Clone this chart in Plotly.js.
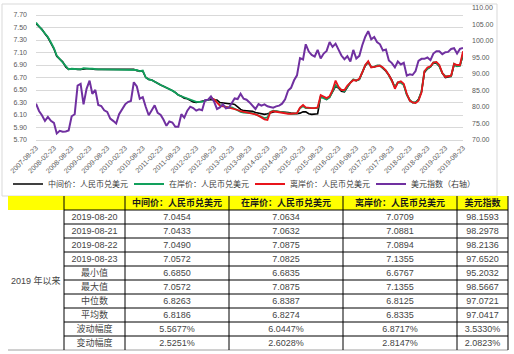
<!DOCTYPE html>
<html><head><meta charset="utf-8">
<script src="https://cdn.plot.ly/plotly-3.0.1.min.js"></script>
<style>html,body{margin:0;padding:0;background:#fff}#chart{width:514px;height:354px}</style>
</head><body><div id="chart"></div>
<script>
// monthly observations (23rd of each month), 2007-08 .. 2019-08
const firstYear = 2007, firstMonth = 8, nObs = 145;
const dates = [];
for (let i = 0; i < nObs; i++) {
  const t = firstMonth - 1 + i;
  const y = firstYear + Math.floor(t / 12), m = t % 12 + 1;
  dates.push(y + '-' + String(m).padStart(2, '0') + '-23');
}
const offshoreStart = 59; // CNH series starts 2012-07

// 中间价：人民币兑美元
const midRate = [
  7.56,7.51,7.47,7.40,7.34,7.25,7.16,7.04,6.99,6.95,6.87,6.83,
  6.84,6.83,6.83,6.83,6.84,6.84,6.84,6.83,6.83,6.83,6.83,6.83,
  6.83,6.83,6.83,6.83,6.83,6.83,6.83,6.83,6.83,6.83,6.81,6.80,
  6.80,6.70,6.67,6.66,6.63,6.60,6.58,6.56,6.54,6.51,6.49,6.46,
  6.42,6.40,6.37,6.36,6.33,6.31,6.30,6.31,6.31,6.32,6.33,
  6.35,6.34,6.34,6.30,6.29,6.29,6.28,6.28,6.27,6.23,6.19,6.17,6.17,6.17,6.16,6.14,6.13,6.12,6.11,6.12,
  6.13,6.15,6.16,6.15,6.15,6.15,6.14,6.13,6.12,6.12,6.13,6.15,6.15,6.12,6.11,6.11,6.12,6.40,
  6.37,6.35,6.39,6.48,6.56,6.53,6.48,6.47,6.55,6.62,6.66,6.65,6.67,6.77,6.89,6.94,
  6.87,6.87,6.89,6.89,6.85,6.80,6.74,6.66,6.54,6.62,6.62,6.58,6.43,6.33,6.30,6.30,
  6.35,6.47,6.78,6.84,6.87,6.93,6.93,6.88,6.77,6.70,6.71,6.72,6.90,6.88,6.89,7.06
];
// 在岸价：人民币兑美元
const onshore = [
  7.58,7.52,7.48,7.41,7.35,7.26,7.17,7.05,6.99,6.95,6.88,6.83,
  6.84,6.84,6.83,6.83,6.85,6.84,6.84,6.84,6.83,6.83,6.83,6.83,
  6.83,6.83,6.83,6.83,6.83,6.83,6.83,6.82,6.83,6.83,6.82,6.80,
  6.81,6.70,6.67,6.66,6.63,6.60,6.58,6.56,6.54,6.51,6.49,6.46,
  6.42,6.40,6.38,6.37,6.34,6.32,6.31,6.31,6.31,6.33,6.34,
  6.38,6.35,6.31,6.26,6.24,6.23,6.22,6.22,6.20,6.17,
  6.15,6.14,6.14,6.13,6.13,6.11,6.09,6.07,6.05,6.06,
  6.15,6.17,6.16,6.15,6.14,6.13,6.12,6.12,6.12,6.13,
  6.21,6.24,6.21,6.21,6.21,6.21,6.21,6.39,6.37,6.35,
  6.38,6.47,6.58,6.54,6.50,6.48,6.56,6.62,6.67,6.65,
  6.67,6.78,6.90,6.95,6.87,6.87,6.89,6.89,6.85,6.81,
  6.73,6.65,6.55,6.62,6.62,6.58,6.42,6.34,6.30,6.30,
  6.34,6.48,6.80,6.84,6.87,6.94,6.94,6.88,6.77,6.72,
  6.72,6.72,6.92,6.88,6.89,7.08
];
// 离岸价：人民币兑美元 (from 2012-07)
const offshore = [
  6.37,6.35,6.30,6.25,6.24,6.23,6.22,6.21,6.20,6.18,
  6.16,6.15,6.15,6.14,6.13,6.11,6.09,6.06,6.03,6.02,
  6.14,6.16,6.15,6.14,6.14,6.13,6.12,6.12,6.12,6.13,
  6.22,6.26,6.22,6.21,6.21,6.21,6.22,6.42,6.39,6.37,
  6.40,6.50,6.65,6.55,6.50,6.50,6.57,6.62,6.66,6.65,
  6.68,6.78,6.90,6.96,6.86,6.87,6.88,6.89,6.86,6.81,
  6.74,6.65,6.52,6.62,6.64,6.60,6.44,6.33,6.30,6.29,
  6.33,6.46,6.80,6.86,6.88,6.94,6.95,6.90,6.77,6.71,
  6.72,6.73,6.92,6.90,6.90,7.12
];
// 美元指数（右轴）
const dollarIndex = [
  81.0,78.8,77.5,75.8,77.0,75.8,75.2,72.0,72.8,72.5,72.6,72.9,
  77.2,77.8,86.5,87.0,80.8,85.5,88.0,84.0,85.2,80.6,80.3,79.0,
  78.5,76.5,75.8,75.0,77.8,79.3,80.8,81.5,81.8,87.5,86.2,82.5,
  83.0,80.0,77.5,79.0,80.5,78.2,77.6,76.2,74.3,75.6,75.3,74.0,
  74.0,77.8,76.8,78.9,80.1,79.7,78.9,79.3,79.0,82.1,82.2,83.2,
  81.7,79.4,79.9,80.8,79.6,79.8,81.5,82.6,82.4,84.0,82.5,82.2,
  81.4,80.5,79.4,80.9,80.4,80.8,80.2,80.0,79.8,80.2,80.4,81.0,
  82.3,85.0,85.8,88.1,89.6,94.8,94.4,99.0,96.8,95.8,95.3,97.3,
  94.7,96.2,97.0,99.7,98.2,99.2,97.4,95.6,94.5,95.4,93.8,97.3,
  94.7,95.5,98.7,101.3,103.0,100.5,101.2,99.7,99.0,97.1,97.4,94.1,
  93.3,92.0,93.8,92.9,93.4,89.5,89.9,89.7,90.9,94.0,94.6,94.6,
  95.0,94.2,96.2,96.9,96.9,96.0,96.6,96.7,97.6,97.8,96.2,97.6,
  97.9
];

const seriesNames = ['中间价：人民币兑美元','在岸价：人民币兑美元','离岸价：人民币兑美元','美元指数（右轴）'];

// table
const tableHeader = ['', '', '中间价：人民币兑美元', '在岸价：人民币兑美元', '离岸价：人民币兑美元', '美元指数'];
const periodLabel = '2019 年以来';
const rowLabels = ['2019-08-20','2019-08-21','2019-08-22','2019-08-23','最小值','最大值','中位数','平均数','波动幅度','变动幅度'];
const colMid = ['7.0454','7.0433','7.0490','7.0572','6.6850','7.0572','6.8263','6.8186','5.5677%','2.5251%'];
const colOn  = ['7.0634','7.0632','7.0875','7.0825','6.6835','7.0875','6.8387','6.8274','6.0447%','2.6028%'];
const colOff = ['7.0709','7.0881','7.0894','7.1355','6.6767','7.1355','6.8125','6.8335','6.8717%','2.8147%'];
const colDxy = ['98.1593','98.2978','98.2136','97.6520','95.2032','98.5667','97.0721','97.0417','3.5330%','2.0823%'];
const colBlank = rowLabels.map(() => '');

const W = 514, H = 354;
const px = v => v / W, py = v => (H - v) / H;
const numFont = 'Liberation Sans, Arial, sans-serif';
const cjkFont = 'Noto Sans CJK SC, sans-serif';
const cellFont = 'Liberation Sans, Noto Sans CJK SC, sans-serif';

// table frame geometry (pixels)
const tblTop = 196, rowH = 14, colEdges = [8, 64, 125, 229, 343, 457, 508];
const tblBottom = tblTop + rowH * (rowLabels.length + 1);
const textLift = 4.5; // Plotly table places text with an 8px top pad
const colW = colEdges.slice(1).map((e, i) => e - colEdges[i]);

const tableShapes = [];
tableShapes.push({type:'rect', xref:'paper', yref:'paper', x0:px(colEdges[0]), x1:px(colEdges[6]),
  y0:py(tblTop + rowH), y1:py(tblTop), fillcolor:'#FFFF00', line:{width:0}, layer:'below'});
for (let k = 0; k < rowLabels.length; k++) {
  const yy = tblTop + rowH * (k + 1);
  tableShapes.push({type:'line', xref:'paper', yref:'paper', x0:px(colEdges[1]), x1:px(colEdges[6]),
    y0:py(yy), y1:py(yy), line:{color:'#000000', width:1}});
}
tableShapes.push({type:'line', xref:'paper', yref:'paper', x0:px(colEdges[0]), x1:px(colEdges[6]),
  y0:py(tblBottom), y1:py(tblBottom), line:{color:'#a0a0a0', width:1}});
for (let c = 1; c < colEdges.length; c++) {
  tableShapes.push({type:'line', xref:'paper', yref:'paper', x0:px(colEdges[c]), x1:px(colEdges[c]),
    y0:py(tblBottom), y1:py(tblTop), line:{color:'#000000', width:1}});
}

const traces = [
  {type:'scatter', mode:'lines', x:dates, y:midRate, name:seriesNames[0], line:{color:'#000000', width:1.6}},
  {type:'scatter', mode:'lines', x:dates, y:onshore, name:seriesNames[1], line:{color:'#12A05C', width:1.8}},
  {type:'scatter', mode:'lines', x:dates.slice(offshoreStart), y:offshore, name:seriesNames[2], line:{color:'#E8141B', width:1.8}},
  {type:'scatter', mode:'lines', x:dates, y:dollarIndex, name:seriesNames[3], yaxis:'y2', line:{color:'#7030A0', width:2}},
  {type:'table', domain:{x:[px(colEdges[0]), px(colEdges[6])], y:[py(tblBottom - textLift + 2), py(tblTop - textLift)]},
   columnwidth:colW,
   header:{values:tableHeader, height:rowH, align:'center',
     fill:{color:'rgba(0,0,0,0)'}, line:{color:'rgba(0,0,0,0)', width:0},
     font:{family:cjkFont, size:9, color:'#1a1a1a', weight:'bold'}},
   cells:{values:[colBlank, rowLabels, colMid, colOn, colOff, colDxy], height:rowH, align:'center',
     fill:{color:'rgba(0,0,0,0)'}, line:{color:'rgba(0,0,0,0)', width:0},
     font:{family:cellFont, size:9, color:'#454545'}}}
];

const layout = {
  width:W, height:H, margin:{l:0,r:0,t:0,b:0},
  paper_bgcolor:'#ffffff', plot_bgcolor:'#ffffff',
  showlegend:true,
  legend:{orientation:'h', x:px(8), xanchor:'left', y:py(184), yanchor:'middle',
    font:{family:cjkFont, size:8, color:'#404040'}, entrywidth:76, bgcolor:'rgba(0,0,0,0)'},
  xaxis:{domain:[px(36), px(463)], type:'date', range:['2007-08-23','2019-08-23'],
    tick0:'2007-08-23', dtick:'M6', tickformat:'%Y-%m-%d', tickangle:-45,
    showgrid:false, showline:true, linecolor:'#d9d9d9', linewidth:1, ticks:'',
    tickfont:{family:numFont, size:7, color:'#595959'}},
  yaxis:{domain:[(H-140)/H, (H-8)/H], range:[5.70, 5.70 + 132/62.5], tick0:5.70, dtick:0.2,
    tickformat:'.2f', showgrid:true, gridcolor:'#d9d9d9', gridwidth:1, zeroline:false,
    ticks:'', ticklabelstandoff:8, tickfont:{family:numFont, size:7, color:'#595959'}},
  yaxis2:{overlaying:'y', side:'right', anchor:'x', range:[70,110], tick0:70, dtick:5,
    tickformat:'.2f', showgrid:false, zeroline:false, ticks:'', ticklabelstandoff:8,
    tickfont:{family:numFont, size:7, color:'#595959'}},
  shapes:[{type:'rect', xref:'paper', yref:'paper', x0:px(2), x1:px(497), y0:py(196), y1:py(4),
    line:{color:'#d9d9d9', width:1}, fillcolor:'rgba(0,0,0,0)', layer:'below'}].concat(tableShapes),
  annotations:[{xref:'paper', yref:'paper', x:px((colEdges[0] + colEdges[1]) / 2), y:py(tblTop + rowH * 6), text:periodLabel, showarrow:false,
    xanchor:'center', yanchor:'middle', font:{family:cellFont, size:9, color:'#454545'}}]
};

Plotly.newPlot('chart', traces, layout, {displayModeBar:false, staticPlot:true});
</script></body></html>
